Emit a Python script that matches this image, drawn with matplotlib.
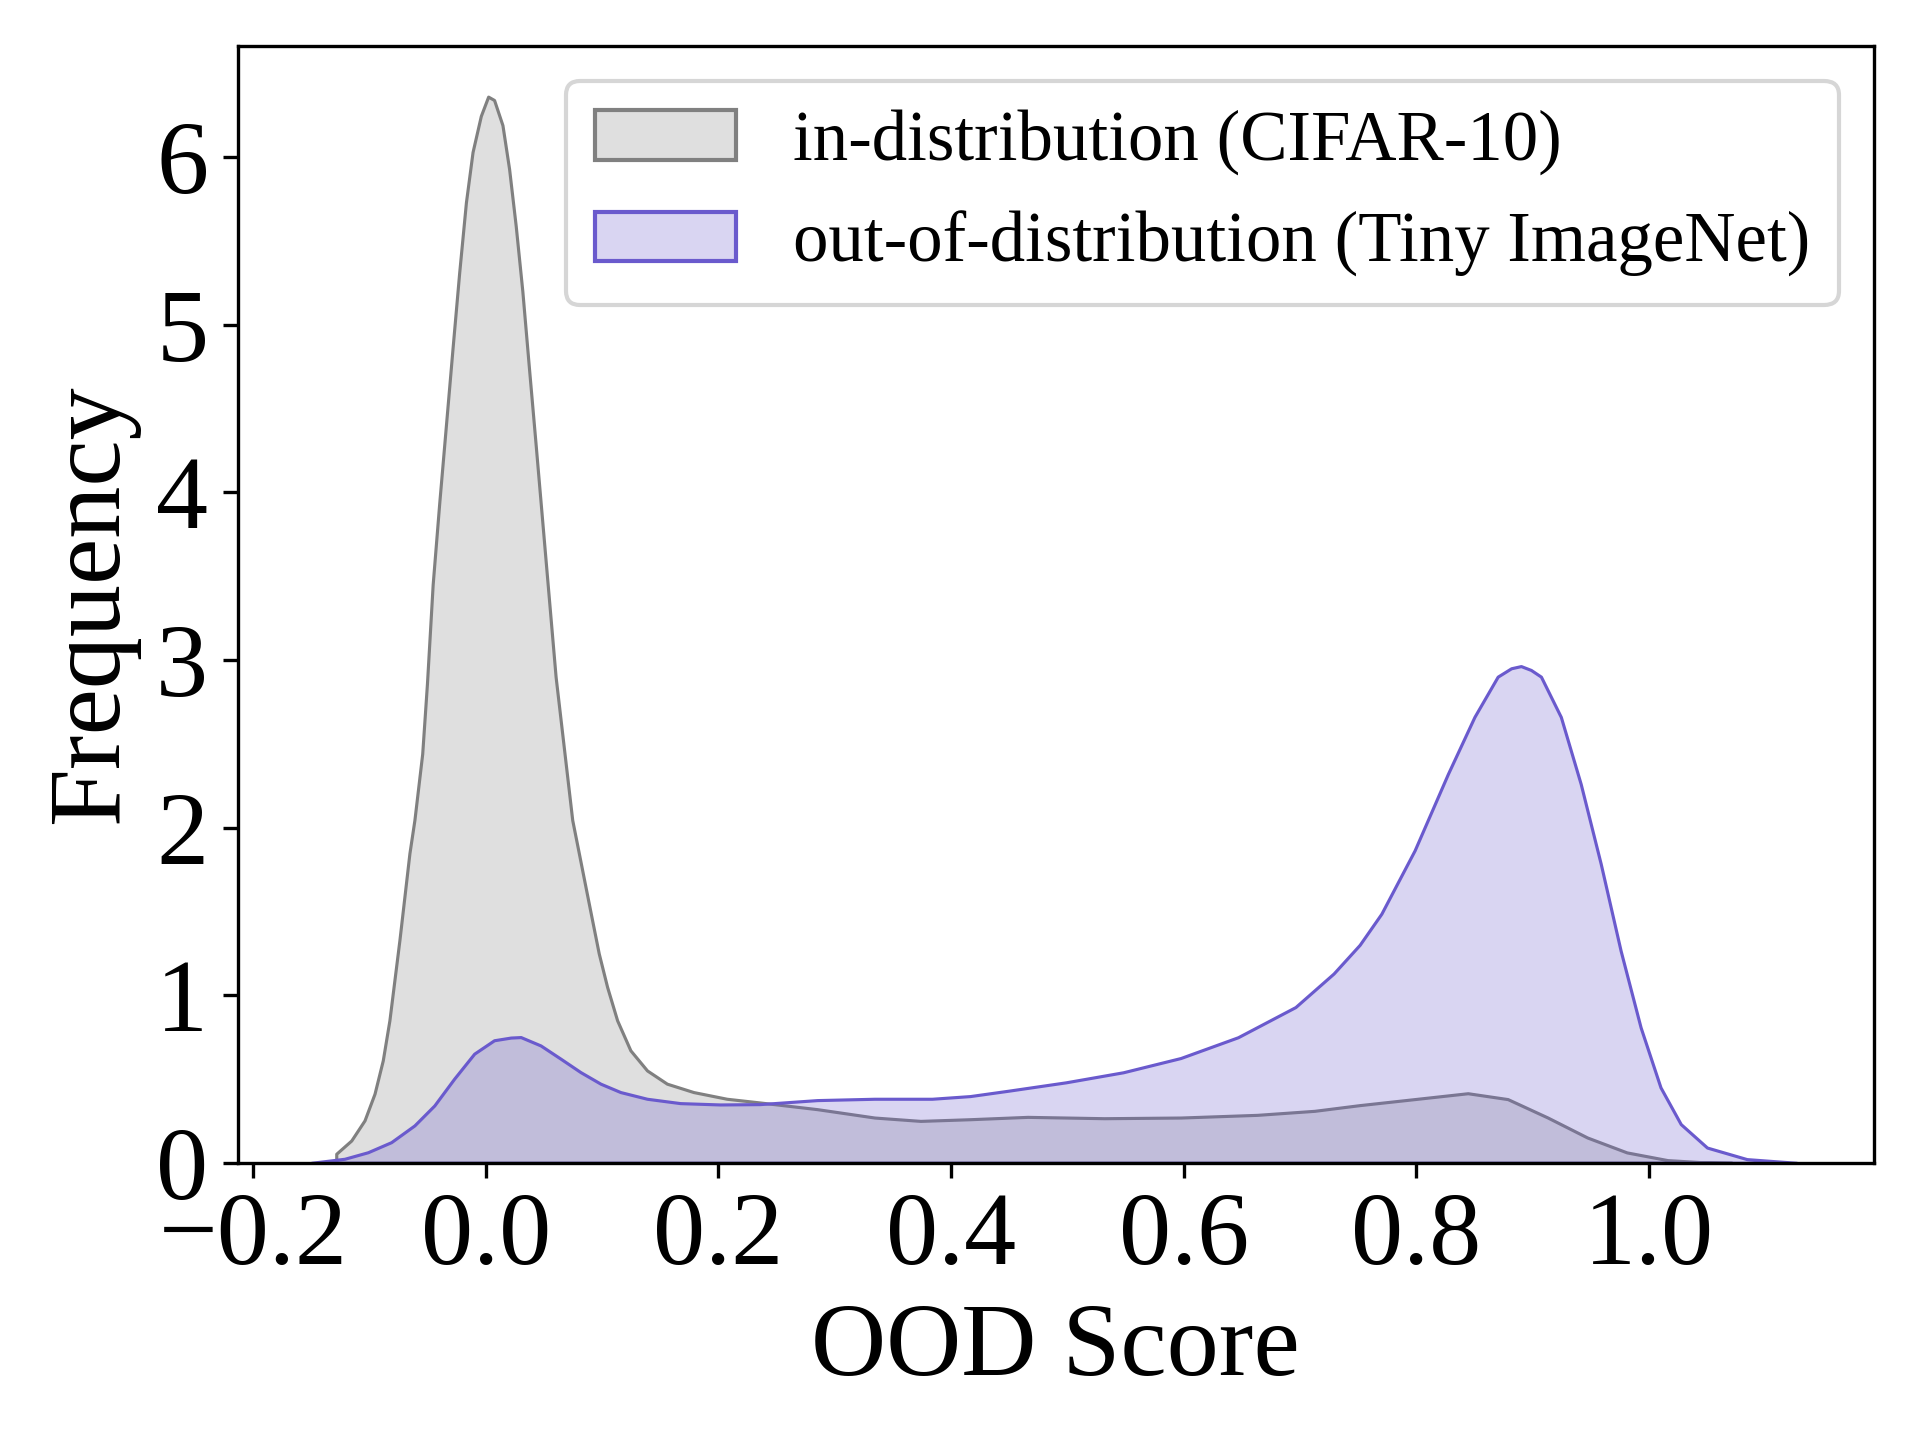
import matplotlib
matplotlib.use("Agg")
import matplotlib.pyplot as plt
from matplotlib.patches import Patch
from matplotlib.colors import to_rgba

# KDE curves (x = OOD score, y = density)
id_x = [-0.1286, -0.1157, -0.1043, -0.0957, -0.0886, -0.0829, -0.0786, -0.0743,
        -0.0700, -0.0657, -0.0614, -0.0547, -0.0506, -0.0457, -0.040, -0.0343,
        -0.0286, -0.0229, -0.0171, -0.0114, -0.0043, 0.002, 0.0071, 0.0143,
        0.020, 0.0257, 0.0314, 0.0371, 0.0429, 0.0486, 0.0543, 0.060, 0.0743,
        0.080, 0.0857, 0.0914, 0.0971, 0.1043, 0.1129, 0.1243, 0.1386, 0.1557,
        0.1785, 0.2072, 0.2355, 0.2849, 0.3342, 0.3737, 0.4164, 0.4658, 0.5316,
        0.5974, 0.6632, 0.7125, 0.7513, 0.7986, 0.8443, 0.8786, 0.913, 0.947,
        0.981, 1.016, 1.045, 1.0714]
id_y = [0.054, 0.133, 0.253, 0.412, 0.611, 0.85, 1.089, 1.328,
        1.587, 1.846, 2.045, 2.44, 2.86, 3.45, 3.94, 4.40,
        4.86, 5.31, 5.73, 6.03, 6.245, 6.36, 6.34, 6.19,
        5.93, 5.59, 5.20, 4.74, 4.28, 3.82, 3.36, 2.90, 2.045,
        1.846, 1.646, 1.447, 1.249, 1.049, 0.85, 0.671, 0.551, 0.472,
        0.422, 0.382, 0.36, 0.32, 0.27, 0.25, 0.26, 0.274, 0.266,
        0.27, 0.286, 0.31, 0.344, 0.38, 0.415, 0.38, 0.27, 0.151,
        0.062, 0.016, 0.004, 0.0]

ood_x = [-0.150, -0.1215, -0.1014, -0.0814, -0.0614, -0.0443, -0.0272, -0.01,
         0.0071, 0.0214, 0.030, 0.0471, 0.0643, 0.0814, 0.0986, 0.1157, 0.1386,
         0.1671, 0.2014, 0.2355, 0.2849, 0.3342, 0.3836, 0.4164, 0.4493, 0.4987,
         0.548, 0.5974, 0.6467, 0.6961, 0.7289, 0.7513, 0.770, 0.7986, 0.8272,
         0.850, 0.870, 0.8816, 0.890, 0.8986, 0.9072, 0.9243, 0.9414, 0.9586,
         0.9757, 0.9929, 1.010, 1.0274, 1.050, 1.0842, 1.127]
ood_y = [0.0, 0.024, 0.063, 0.123, 0.223, 0.342, 0.502, 0.651,
         0.731, 0.747, 0.75, 0.70, 0.621, 0.541, 0.472, 0.422, 0.382,
         0.356, 0.348, 0.35, 0.374, 0.382, 0.382, 0.398, 0.43, 0.48,
         0.54, 0.625, 0.749, 0.929, 1.129, 1.30, 1.486, 1.864, 2.32,
         2.66, 2.90, 2.95, 2.963, 2.94, 2.90, 2.66, 2.26, 1.784,
         1.266, 0.808, 0.45, 0.231, 0.091, 0.022, 0.0]

labels = ["in-distribution (CIFAR-10)", "out-of-distribution (Tiny ImageNet)"]
colors = ["gray", "slateblue"]
x_ticks = [-0.2, 0.0, 0.2, 0.4, 0.6, 0.8, 1.0]
y_ticks = [0, 1, 2, 3, 4, 5, 6]

plt.rcParams['font.family'] = ['Liberation Serif', 'DejaVu Serif']
plt.rcParams['font.size'] = 25

fig, ax = plt.subplots(figsize=(6.4, 4.8), dpi=300)
fig.subplots_adjust(left=0.1237, right=0.976, bottom=0.1925, top=0.9684)

# filled KDE areas with outline, gray first so purple lies on top
for xs, ys, c in [(id_x, id_y, colors[0]), (ood_x, ood_y, colors[1])]:
    ax.fill_between(xs, ys, 0, facecolor=to_rgba(c, 0.25), edgecolor=c,
                    linewidth=0.75)

ax.set_xlim(-0.2135, 1.1935)
ax.set_ylim(0, 6.665)
ax.set_xticks(x_ticks)
ax.set_yticks(y_ticks)
ax.set_xlabel("OOD Score")
ax.set_ylabel("Frequency")

handles = [Patch(facecolor=to_rgba(c, 0.25), edgecolor=c, linewidth=1.0) for c in colors]
ax.legend(handles, labels, loc='upper right', fontsize=17)

fig.savefig("out.png", dpi=300)
